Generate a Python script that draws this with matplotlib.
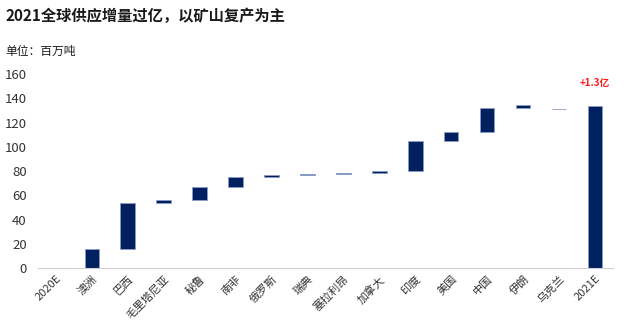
import numpy as np
import matplotlib.pyplot as plt

plt.rcParams['font.family'] = ['Noto Sans CJK SC', 'DejaVu Sans']

# 各国供应增量（百万吨），瀑布图：起点 + 增量
labels = ["2020E", "澳洲", "巴西", "毛里塔尼亚", "秘鲁", "南非", "俄罗斯", "瑞典",
          "塞拉利昂", "加拿大", "印度", "美国", "中国", "伊朗", "乌克兰", "2021E"]
base = [0, 0, 16, 54, 56, 67, 75.5, 77, 77.8, 78.4, 80, 105, 112, 132.2, 130.8, 0]
delta = [0, 16, 38, 2, 11, 8.2, 1.3, 0.5, 0.5, 1.7, 25, 7.2, 20.2, 2.3, 0.6, 134]
total_label = "+1.3亿"

fig = plt.figure(figsize=(6.4, 3.29), dpi=100)
ax = fig.add_axes([0.059, 0.185, 0.899, 0.59])

x = np.arange(len(labels))
ax.bar(x, delta, bottom=base, width=0.4, color="#002060",
       edgecolor="#8a9cc6", linewidth=0.6)

ax.text(x[-1], base[-1] + delta[-1] + 19, total_label, color="#ff1a1a",
        fontsize=7, fontweight="bold", ha="center", va="center")

ax.set_xlim(-0.5, len(labels) - 0.5)
ax.set_ylim(0, 160)
ax.set_yticks(np.arange(0, 161, 20))
ax.set_xticks(x)
ax.set_xticklabels(labels, rotation=45, ha="right", rotation_mode="anchor",
                   fontsize=8, color="#333333")
ax.tick_params(axis="y", length=0, labelsize=9.5, labelcolor="#333333", pad=8)
ax.tick_params(axis="x", length=0, pad=4)
for s in ["top", "right", "left"]:
    ax.spines[s].set_visible(False)
ax.spines["bottom"].set_color("#d0d0d0")

fig.text(0.008, 0.952, "2021全球供应增量过亿，以矿山复产为主", fontsize=11,
         fontweight="bold", ha="left", va="center", color="#1a1a1a")
fig.text(0.008, 0.845, "单位：百万吨", fontsize=8.5, ha="left", va="center",
         color="#1a1a1a")

fig.savefig("out.png", dpi=100)
